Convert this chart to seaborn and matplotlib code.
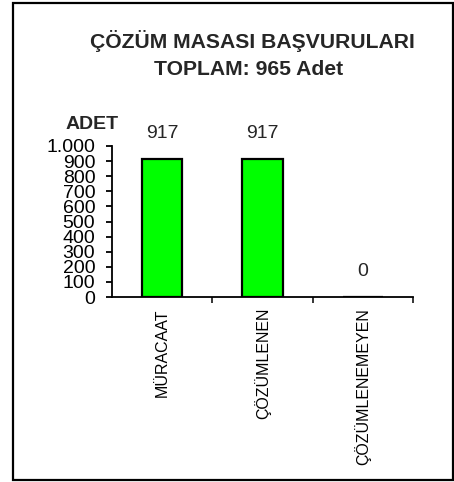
import matplotlib
matplotlib.use("Agg")
import matplotlib.pyplot as plt
import seaborn as sns
from matplotlib.patches import Rectangle

# chart data
categories = ["MÜRACAAT", "ÇÖZÜMLENEN", "ÇÖZÜMLENEMEYEN"]
counts = [917, 917, 0]
y_ticks = list(range(0, 1001, 100))
y_tick_labels = ["0", "100", "200", "300", "400", "500", "600", "700", "800", "900", "1.000"]

sns.set_theme(style="white")
plt.rcParams["font.family"] = ["Liberation Sans", "DejaVu Sans"]

fig = plt.figure(figsize=(4.54, 4.82), dpi=100)
ax = fig.add_axes([0.2467, 0.3838, 0.663, 0.3133])

sns.barplot(x=categories, y=counts, color="#00FF00", saturation=1,
            edgecolor="black", linewidth=1.6, width=0.4, ax=ax)

ax.set_xlim(-0.5, 2.5)
ax.set_ylim(0, 1000)
ax.set_yticks(y_ticks)
ax.set_yticklabels(y_tick_labels, fontsize=14)
ax.tick_params(axis="y", direction="out", length=4, width=1.3, pad=8, colors="black", left=True)

# category labels without ticks, boundary ticks as minor ticks
ax.set_xticks(range(len(categories)))
ax.set_xticklabels(categories, rotation=90, fontsize=11.5, va="top")
ax.tick_params(axis="x", which="major", length=0, pad=8, colors="black")
ax.set_xticks([0.5, 1.5, 2.5], minor=True)
ax.tick_params(axis="x", which="minor", direction="out", length=4, width=1.3, bottom=True)

for side in ["top", "right"]:
    ax.spines[side].set_visible(False)
for side in ["left", "bottom"]:
    ax.spines[side].set_color("black")
    ax.spines[side].set_linewidth(1.3)

ax.bar_label(ax.containers[0], labels=[str(v) for v in counts], padding=12, fontsize=14)
ax.set_xlabel("")
ax.set_ylabel("")

fig.text(0.202, 0.742, "ADET", fontsize=14, fontweight="bold", ha="center", va="center")
fig.text(0.557, 0.915, "ÇÖZÜM MASASI BAŞVURULARI", fontsize=15.2, fontweight="bold",
         ha="center", va="center")
fig.text(0.548, 0.855, "TOPLAM: 965 Adet", fontsize=15.2, fontweight="bold",
         ha="center", va="center")

# outer frame
fig.patches.append(Rectangle((0.0286, 0.005), 0.969, 0.988, transform=fig.transFigure,
                             fill=False, edgecolor="black", linewidth=1.6))

fig.savefig("out.png", dpi=100)
